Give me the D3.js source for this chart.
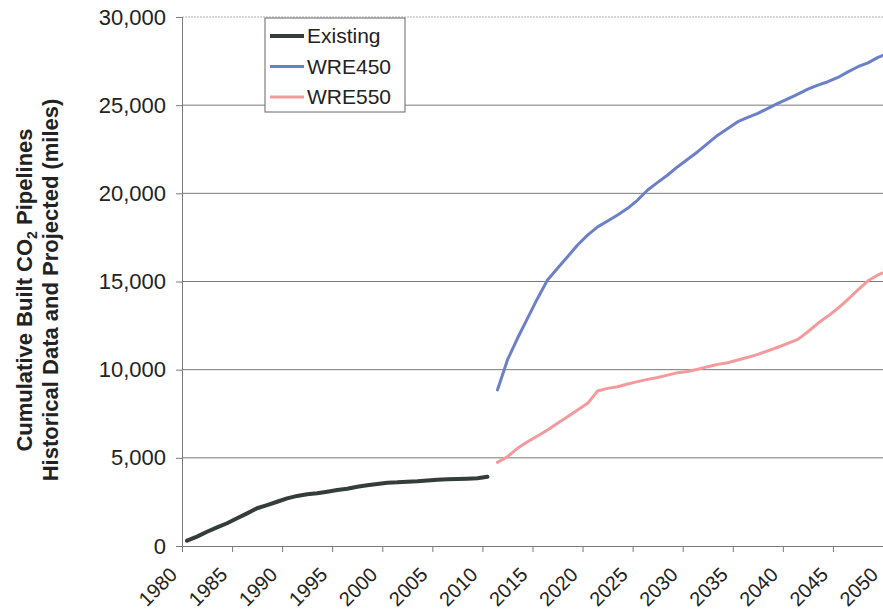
<!DOCTYPE html>
<html>
<head>
<meta charset="utf-8">
<script src="https://cdn.jsdelivr.net/npm/d3@7"></script>
<style>
  html, body { margin: 0; padding: 0; background: #fff; }
  svg { display: block; font-family: Arial, "Liberation Sans", sans-serif; }
</style>
</head>
<body>
<svg id="chart" width="883" height="613"></svg>
<script>
// Cumulative miles of CO2 pipeline: historical (1980-2010) and two projections (2011-2050)
const existingYears = d3.range(1980, 2011);
const existingMiles = [300, 530, 810, 1060, 1290, 1570, 1850, 2140, 2320, 2510,
  2700, 2840, 2930, 2990, 3080, 3175, 3250, 3360, 3440, 3515,
  3590, 3610, 3650, 3670, 3720, 3760, 3780, 3800, 3820, 3840, 3930];

const projectionYears = d3.range(2011, 2051);
const wre450Miles = [8850, 10550, 11780, 12910, 14040, 15080, 15750, 16400, 17070, 17630,
  18100, 18430, 18770, 19150, 19620, 20190, 20620, 21040, 21510, 21930,
  22360, 22830, 23300, 23680, 24060, 24310, 24530, 24820, 25100, 25360,
  25630, 25910, 26140, 26330, 26570, 26890, 27180, 27400, 27710, 27950];
const wre550Miles = [4745, 5065, 5540, 5915, 6240, 6580, 6955, 7330, 7710, 8090,
  8790, 8940, 9030, 9190, 9320, 9450, 9560, 9690, 9830, 9900,
  10020, 10170, 10300, 10390, 10550, 10700, 10870, 11070, 11270, 11490,
  11720, 12150, 12630, 13040, 13480, 13990, 14520, 15040, 15370, 15600];

const xTickYears = d3.range(1980, 2051, 5);
const yTickValues = d3.range(0, 30001, 5000);

const seriesNames = ["Existing", "WRE450", "WRE550"];
const seriesColors = ["#343d3a", "#6b80c6", "#f59a9c"];
const seriesWidths = [4, 3, 3];

const series = [
  { name: seriesNames[0], values: existingYears.map((y, i) => ({ year: y, miles: existingMiles[i] })) },
  { name: seriesNames[1], values: projectionYears.map((y, i) => ({ year: y, miles: wre450Miles[i] })) },
  { name: seriesNames[2], values: projectionYears.map((y, i) => ({ year: y, miles: wre550Miles[i] })) }
];

const svg = d3.select("#chart");
const plot = { left: 182, right: 883, top: 17, bottom: 546 };

const x = d3.scaleLinear().domain([1980, 2050]).range([plot.left, plot.right]);
const y = d3.scaleLinear().domain([0, 30000]).range([plot.bottom, plot.top]);

// each year's value sits in the middle of its category slot
const xMid = yr => x(yr + 0.5);

// horizontal gridlines
svg.append("g")
  .selectAll("line")
  .data(yTickValues.filter(v => v > 0))
  .join("line")
  .attr("x1", plot.left).attr("x2", plot.right)
  .attr("y1", d => y(d)).attr("y2", d => y(d))
  .attr("stroke", d => d === 30000 ? "#b0b0b0" : "#7a7a7a")
  .attr("stroke-dasharray", d => d === 30000 ? "2,1" : null)
  .attr("stroke-width", 1);

// y axis
const yAxis = svg.append("g")
  .attr("transform", `translate(${plot.left},0)`)
  .call(d3.axisLeft(y).tickValues(yTickValues).tickSize(6).tickPadding(10).tickFormat(d3.format(",")));
yAxis.select(".domain").attr("stroke", "#7a7a7a");
yAxis.selectAll(".tick line").attr("stroke", "#7a7a7a");
yAxis.selectAll("text").attr("font-size", 22).attr("fill", "#222");

// x axis
const xAxis = svg.append("g")
  .attr("transform", `translate(0,${plot.bottom})`)
  .call(d3.axisBottom(x).tickValues(xTickYears).tickSize(6).tickFormat(d3.format("d")));
xAxis.select(".domain").attr("stroke", "#7a7a7a");
xAxis.selectAll(".tick line").attr("stroke", "#7a7a7a");
xAxis.selectAll("text")
  .attr("font-size", 20)
  .attr("fill", "#222")
  .attr("text-anchor", "end")
  .attr("x", 0).attr("y", 0).attr("dy", "0.35em")
  .attr("transform", "translate(-9,25) rotate(-45)");

// series lines
const line = d3.line().x(d => xMid(d.year)).y(d => y(d.miles));
svg.append("g")
  .selectAll("path")
  .data(series)
  .join("path")
  .attr("d", d => line(d.values))
  .attr("fill", "none")
  .attr("stroke", (d, i) => seriesColors[i])
  .attr("stroke-width", (d, i) => seriesWidths[i])
  .attr("stroke-linejoin", "round")
  .attr("stroke-linecap", "round");

// y axis title (two lines, with subscript in CO2)
const title = svg.append("g").attr("transform", "translate(0,290) rotate(-90)");
const t1 = title.append("text")
  .attr("x", 0).attr("y", 32)
  .attr("text-anchor", "middle")
  .attr("font-size", 22).attr("font-weight", "bold").attr("fill", "#222");
t1.append("tspan").text("Cumulative Built CO");
t1.append("tspan").attr("font-size", 14).attr("dy", 5).text("2");
t1.append("tspan").attr("dy", -5).text(" Pipelines");
title.append("text")
  .attr("x", 0).attr("y", 58)
  .attr("text-anchor", "middle")
  .attr("font-size", 22).attr("font-weight", "bold").attr("fill", "#222")
  .text("Historical Data and Projected (miles)");

// legend
const legend = svg.append("g").attr("transform", "translate(265,18)");
legend.append("rect")
  .attr("width", 140).attr("height", 94)
  .attr("fill", "#fff").attr("stroke", "#666").attr("stroke-width", 1);
const items = legend.selectAll("g.item")
  .data(seriesNames)
  .join("g")
  .attr("class", "item")
  .attr("transform", (d, i) => `translate(0,${18 + i * 30.5})`);
items.append("line")
  .attr("x1", 5).attr("x2", 39).attr("y1", 0).attr("y2", 0)
  .attr("stroke", (d, i) => seriesColors[i])
  .attr("stroke-width", (d, i) => seriesWidths[i]);
items.append("text")
  .attr("x", 42).attr("y", 0).attr("dy", "0.35em")
  .attr("font-size", 21).attr("fill", "#222")
  .text(d => d);
</script>
</body>
</html>
